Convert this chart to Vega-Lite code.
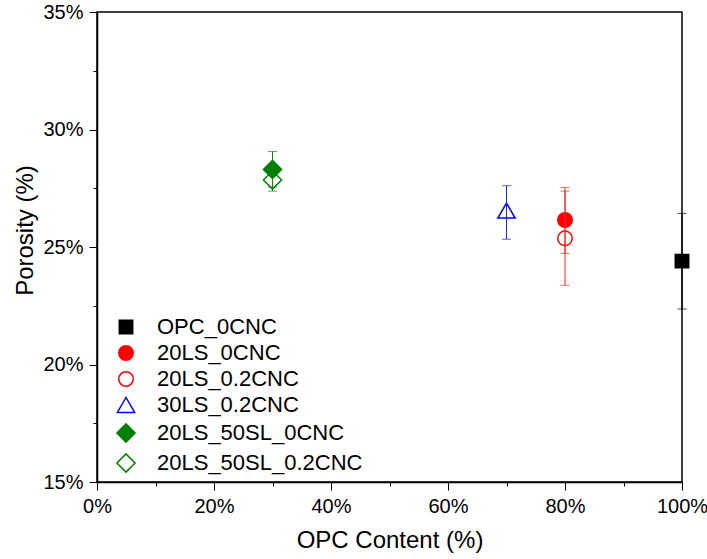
{
  "$schema": "https://vega.github.io/schema/vega-lite/v6.json",
  "width": 585,
  "height": 470,
  "autosize": {"type": "none"},
  "padding": {"left": 97, "top": 12, "right": 25, "bottom": 77},
  "background": "white",
  "config": {
    "font": "Liberation Sans",
    "view": {"stroke": "black", "strokeWidth": 1.5},
    "axis": {
      "grid": false,
      "domainColor": "black",
      "domainWidth": 1.5,
      "tickColor": "black",
      "tickWidth": 1,
      "labelFont": "Liberation Sans",
      "labelFontSize": 20,
      "labelColor": "black",
      "titleFont": "Liberation Sans",
      "titleFontSize": 24,
      "titleFontWeight": "normal",
      "titleColor": "black"
    },
    "legend": {
      "padding": 0,
      "labelFont": "Liberation Sans",
      "labelFontSize": 22,
      "labelColor": "black",
      "labelOffset": 20,
      "labelLimit": 400,
      "rowPadding": 4,
      "symbolOffset": 12,
      "symbolStrokeWidth": 1.5,
      "symbolOpacity": 1
    }
  },
  "data": {
    "values": [
      {"series": "OPC_0CNC", "x": 100, "y": 24.4, "lo": 22.36, "hi": 26.43},
      {"series": "20LS_0CNC", "x": 80, "y": 26.15, "lo": 24.73, "hi": 27.38},
      {"series": "20LS_0.2CNC", "x": 80, "y": 25.37, "lo": 23.37, "hi": 27.53},
      {"series": "30LS_0.2CNC", "x": 70, "y": 26.55, "lo": 25.33, "hi": 27.61},
      {"series": "20LS_50SL_0CNC", "x": 30, "y": 28.3, "lo": 27.55, "hi": 29.06},
      {"series": "20LS_50SL_0.2CNC", "x": 30, "y": 27.85, "lo": 27.38, "hi": 28.32}
    ]
  },
  "layer": [
    {
      "mark": {"type": "point", "filled": false, "opacity": 1, "strokeWidth": 1.5},
      "encoding": {
        "x": {
          "field": "x", "type": "quantitative",
          "scale": {"domain": [0, 100], "nice": false},
          "axis": {
            "title": "OPC Content (%)",
            "values": [0, 10, 20, 30, 40, 50, 60, 70, 80, 90, 100],
            "labelExpr": "datum.value % 20 === 0 ? datum.value + '%' : ''",
            "tickSize": {"condition": {"test": "datum.value % 20 === 0", "value": 8}, "value": 4},
            "labelPadding": 6,
            "labelFlush": false,
            "titlePadding": 12
          }
        },
        "y": {
          "field": "y", "type": "quantitative",
          "scale": {"domain": [15, 35], "nice": false, "zero": false},
          "axis": {
            "title": "Porosity (%)",
            "values": [15, 17.5, 20, 22.5, 25, 27.5, 30, 32.5, 35],
            "labelExpr": "datum.value % 5 === 0 ? datum.value + '%' : ''",
            "tickSize": {"condition": {"test": "datum.value % 5 === 0", "value": 8}, "value": 4},
            "labelPadding": 6,
            "labelFlush": false,
            "titlePadding": 5,
            "titleY": 218
          }
        },
        "shape": {
          "field": "series", "type": "nominal",
          "scale": {
            "domain": ["OPC_0CNC", "20LS_0CNC", "20LS_0.2CNC", "30LS_0.2CNC", "20LS_50SL_0CNC", "20LS_50SL_0.2CNC"],
            "range": ["square", "circle", "circle", "triangle-up", "diamond", "diamond"]
          },
          "legend": {"title": null, "orient": "bottom-left", "offset": 6}
        },
        "fill": {
          "field": "series", "type": "nominal",
          "scale": {
            "domain": ["OPC_0CNC", "20LS_0CNC", "20LS_0.2CNC", "30LS_0.2CNC", "20LS_50SL_0CNC", "20LS_50SL_0.2CNC"],
            "range": ["#000000", "#ff0000", "transparent", "transparent", "#007f00", "transparent"]
          },
          "legend": {"title": null, "orient": "bottom-left", "offset": 6}
        },
        "stroke": {
          "field": "series", "type": "nominal",
          "scale": {
            "domain": ["OPC_0CNC", "20LS_0CNC", "20LS_0.2CNC", "30LS_0.2CNC", "20LS_50SL_0CNC", "20LS_50SL_0.2CNC"],
            "range": ["#000000", "#ff0000", "#ff0000", "#0000ff", "#007f00", "#007f00"]
          },
          "legend": {"title": null, "orient": "bottom-left", "offset": 6}
        },
        "size": {
          "field": "series", "type": "nominal",
          "scale": {
            "type": "ordinal",
            "domain": ["OPC_0CNC", "20LS_0CNC", "20LS_0.2CNC", "30LS_0.2CNC", "20LS_50SL_0CNC", "20LS_50SL_0.2CNC"],
            "range": [180, 210, 210, 300, 330, 330]
          },
          "legend": {"title": null, "orient": "bottom-left", "offset": 6}
        }
      }
    },
    {
      "mark": {"type": "rule", "strokeWidth": 1},
      "encoding": {
        "x": {"field": "x", "type": "quantitative"},
        "y": {"field": "lo", "type": "quantitative"},
        "y2": {"field": "hi"},
        "color": {
          "field": "series", "type": "nominal",
          "scale": {
            "domain": ["OPC_0CNC", "20LS_0CNC", "20LS_0.2CNC", "30LS_0.2CNC", "20LS_50SL_0CNC", "20LS_50SL_0.2CNC"],
            "range": ["#000000", "#ff2020", "#ff2020", "#2020ff", "#108010", "#108010"]
          },
          "legend": null
        }
      }
    },
    {
      "mark": {"type": "tick", "orient": "horizontal", "size": 9, "thickness": 1},
      "encoding": {
        "x": {"field": "x", "type": "quantitative"},
        "y": {"field": "lo", "type": "quantitative"},
        "color": {"field": "series", "type": "nominal", "legend": null}
      }
    },
    {
      "mark": {"type": "tick", "orient": "horizontal", "size": 9, "thickness": 1},
      "encoding": {
        "x": {"field": "x", "type": "quantitative"},
        "y": {"field": "hi", "type": "quantitative"},
        "color": {"field": "series", "type": "nominal", "legend": null}
      }
    }
  ]
}
